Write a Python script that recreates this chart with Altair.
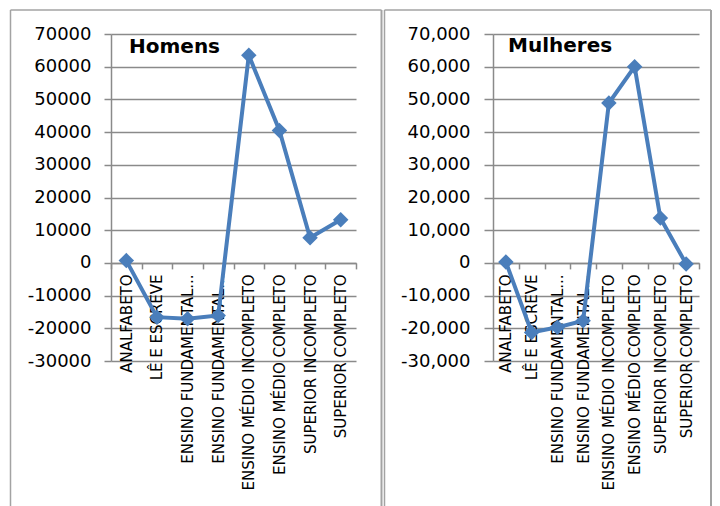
import altair as alt
import pandas as pd

categorias = [
    "ANALFABETO",
    "LÊ E ESCREVE",
    "ENSINO FUNDAMENTAL INCOMPLETO",
    "ENSINO FUNDAMENTAL COMPLETO",
    "ENSINO MÉDIO INCOMPLETO",
    "ENSINO MÉDIO COMPLETO",
    "SUPERIOR INCOMPLETO",
    "SUPERIOR COMPLETO",
]
homens = [700, -16600, -17100, -16100, 63500, 40500, 7700, 13200]
mulheres = [300, -21300, -19700, -17700, 48900, 60000, 13700, -300]
y_ticks = [-30000, -20000, -10000, 0, 10000, 20000, 30000, 40000, 50000, 60000, 70000]
y_min, y_max = -30000, 70000

BLUE = "#4A7EBB"
GRAY = "#8a8a8a"
FRAME = "#a3a3a3"
FONT = "DejaVu Sans"
H = 327


def panel(values, title, width, fmt, tick, pad, title_x, title_y, frame_left, frame_right):
    df = pd.DataFrame({"cat": categorias, "v": values})
    x_offset = -H * (0 - y_min) / (y_max - y_min)
    x = alt.X(
        "cat:N",
        sort=categorias,
        bandPosition=0.5,
        scale=alt.Scale(type="band", paddingInner=0, paddingOuter=0),
        axis=alt.Axis(
            title=None,
            orient="bottom",
            offset=x_offset,
            grid=False,
            domainColor=GRAY,
            domainWidth=1.5,
            tickColor=GRAY,
            tickWidth=1.5,
            tickSize=6,
            tickBand="extent",
            labelAngle=270,
            labelAlign="right",
            labelBaseline="middle",
            labelPadding=5,
            labelFont=FONT,
            labelFontSize=15,
            labelColor="#000000",
            labelLimit=400,
            labelOverlap=False,
            labelExpr="indexof(datum.label, 'FUNDAMENTAL') >= 0 ? 'ENSINO FUNDAMENTAL...' : datum.label",
        ),
    )
    y = alt.Y(
        "v:Q",
        scale=alt.Scale(domain=[y_min, y_max], nice=False, zero=False),
        axis=alt.Axis(
            title=None,
            values=y_ticks,
            grid=True,
            gridColor=GRAY,
            gridWidth=1.5,
            domainColor=GRAY,
            domainWidth=1.5,
            tickColor=GRAY,
            tickWidth=1.5,
            tickSize=tick,
            labelPadding=pad,
            labelFont=FONT,
            labelFontSize=18,
            labelColor="#000000",
            labelExpr="(datum.value < 0 ? '-' : '') + format(abs(datum.value), '%s')" % fmt,
        ),
    )
    base = alt.Chart(df)
    line = base.mark_line(color=BLUE, strokeWidth=4).encode(x=x, y=y)
    pts = base.mark_point(shape="diamond", filled=True, size=240, color=BLUE, opacity=1).encode(x=x, y=y)
    tdf = pd.DataFrame({"t": [title]})
    ttl = alt.Chart(tdf).mark_text(
        font=FONT, fontSize=20, fontWeight="bold", color="#000000", align="left", baseline="alphabetic"
    ).encode(x=alt.value(title_x), y=alt.value(title_y), text="t:N")
    fdf = pd.DataFrame({"a": [0]})
    fl = alt.Chart(fdf).mark_rule(color=FRAME, strokeWidth=1.5).encode(
        x=alt.value(frame_left), y=alt.value(-24), y2=alt.value(476)
    )
    ft = alt.Chart(fdf).mark_rule(color=FRAME, strokeWidth=1.5).encode(
        x=alt.value(frame_left), x2=alt.value(frame_right), y=alt.value(-24)
    )
    fr = alt.Chart(fdf).mark_rule(color=FRAME, strokeWidth=2).encode(
        x=alt.value(frame_right), y=alt.value(-24), y2=alt.value(476)
    )
    return alt.layer(fl, ft, fr, line, pts, ttl).properties(width=width, height=H)


left = panel(homens, "Homens", 245, "d", 7, 13, 18, 19, -100.5, 270.5)
right = panel(mulheres, "Mulheres", 206, ",d", 9, 14, 15, 18, -108.5, 218)

chart = (
    alt.hconcat(left, right, spacing=137, bounds="flush")
    .properties(padding={"left": 1, "top": 1, "right": 0, "bottom": 0}, background="#ffffff")
    .configure_view(stroke=None)
)

chart.save("out.html", embed_options={"renderer": "svg", "actions": False})
